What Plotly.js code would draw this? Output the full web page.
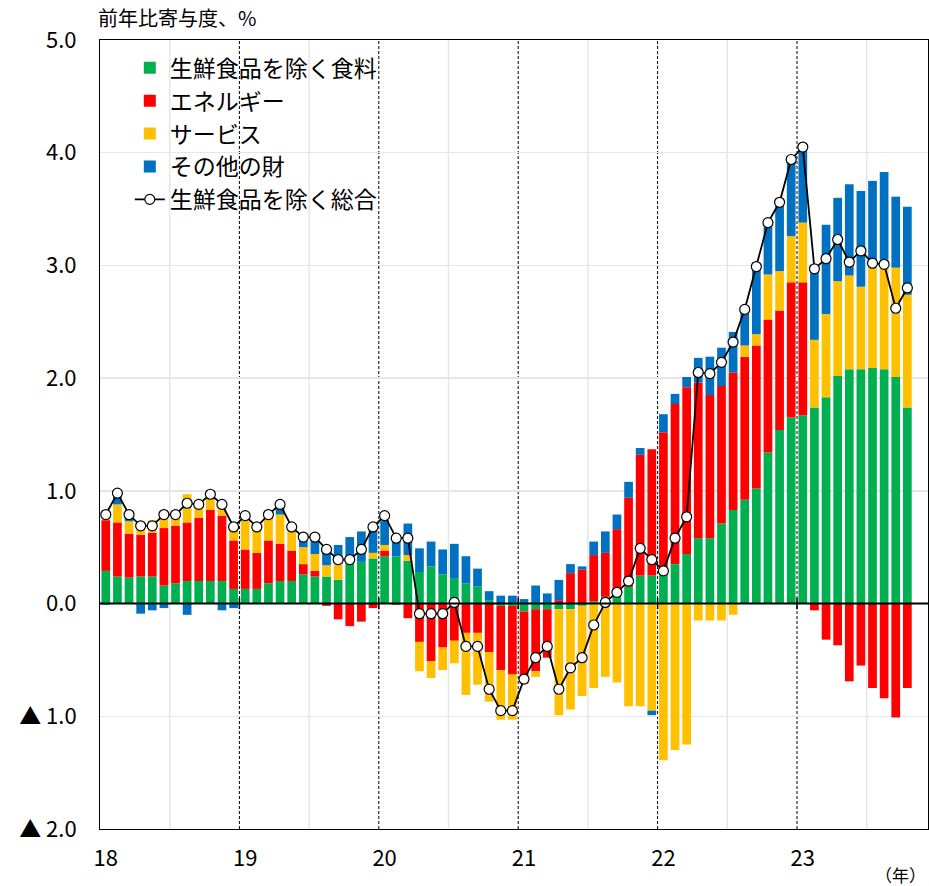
<!DOCTYPE html>
<html>
<head>
<meta charset="utf-8">
<script src="https://cdn.plot.ly/plotly-3.0.1.min.js"></script>
<style>html,body{margin:0;padding:0;background:#fff;}#chart{width:929px;height:886px;}</style>
</head>
<body>
<div id="chart"></div>
<script>
// Year labels (one per January, starting 2018)
const yearLabels = ['18', '19', '20', '21', '22', '23'];

// Monthly contributions (percentage points), Jan 2018 – Oct 2023
const food = [
  0.29, 0.24, 0.23, 0.24, 0.24, 0.16, 0.18, 0.20, 0.20, 0.20, 0.20, 0.13,
  0.13, 0.13, 0.18, 0.20, 0.20, 0.26, 0.24, 0.24, 0.21, 0.37, 0.37, 0.40,
  0.42, 0.42, 0.38, 0.28, 0.33, 0.26, 0.22, 0.18, 0.15, 0.03, -0.02, -0.02,
  -0.07, -0.05, -0.05, -0.05, -0.05, -0.02, 0.02, 0.06, 0.09, 0.15, 0.25, 0.25,
  0.27, 0.35, 0.44, 0.58, 0.58, 0.71, 0.83, 0.92, 1.02, 1.34, 1.54, 1.65,
  1.67, 1.74, 1.83, 2.02, 2.08, 2.08, 2.09, 2.08, 2.01, 1.74
];
const energy = [
  0.45, 0.48, 0.39, 0.37, 0.39, 0.51, 0.51, 0.52, 0.56, 0.63, 0.58, 0.43,
  0.35, 0.32, 0.38, 0.33, 0.27, 0.09, 0.05, -0.02, -0.14, -0.20, -0.16, -0.04,
  0.05, -0.01, -0.13, -0.34, -0.51, -0.39, -0.33, -0.26, -0.26, -0.43, -0.57, -0.61,
  -0.64, -0.55, -0.43, 0.03, 0.27, 0.30, 0.41, 0.39, 0.57, 0.79, 1.07, 1.12,
  1.25, 1.42, 1.48, 1.38, 1.27, 1.22, 1.22, 1.27, 1.27, 1.18, 1.06, 1.20,
  1.18, -0.06, -0.32, -0.37, -0.69, -0.55, -0.75, -0.84, -1.01, -0.75
];
const services = [
  0.02, 0.16, 0.11, 0.10, 0.11, 0.10, 0.08, 0.25, 0.10, 0.13, 0.10, 0.14,
  0.26, 0.20, 0.19, 0.26, 0.18, 0.15, 0.15, 0.10, 0.15, 0.00, 0.00, 0.05,
  0.05, 0.00, 0.05, -0.26, -0.15, -0.20, -0.20, -0.55, -0.46, -0.44, -0.44, -0.40,
  0.00, -0.05, 0.00, -0.94, -0.89, -0.80, -0.75, -0.65, -0.70, -0.91, -0.91, -0.95,
  -1.39, -1.30, -1.25, -0.15, -0.15, -0.15, -0.10, 0.10, 0.10, 0.40, 0.35, 0.41,
  0.53, 0.60, 0.74, 0.84, 0.83, 0.73, 0.94, 0.97, 0.97, 1.00
];
const otherGoods = [
  -0.01, 0.09, 0.04, -0.09, -0.06, -0.04, 0.00, -0.10, 0.00, 0.01, -0.06, -0.04,
  0.03, 0.02, 0.03, 0.06, 0.02, 0.09, 0.14, 0.13, 0.16, 0.22, 0.27, 0.20,
  0.22, 0.16, 0.28, 0.21, 0.22, 0.22, 0.31, 0.24, 0.16, 0.08, 0.07, 0.07,
  0.04, 0.16, 0.09, 0.18, 0.08, 0.03, 0.12, 0.19, 0.13, 0.14, 0.06, -0.04,
  0.16, 0.09, 0.09, 0.22, 0.34, 0.34, 0.36, 0.35, 0.57, 0.46, 0.62, 0.71,
  0.66, 0.63, 0.79, 0.74, 0.81, 0.85, 0.72, 0.78, 0.63, 0.78
];
const coreCPI = [
  0.79, 0.98, 0.79, 0.69, 0.69, 0.79, 0.79, 0.89, 0.88, 0.97, 0.88, 0.68,
  0.78, 0.68, 0.79, 0.88, 0.68, 0.59, 0.59, 0.48, 0.39, 0.39, 0.48, 0.68,
  0.78, 0.58, 0.58, -0.09, -0.09, -0.09, 0.01, -0.38, -0.38, -0.76, -0.95, -0.95,
  -0.67, -0.48, -0.38, -0.76, -0.57, -0.48, -0.19, 0.01, 0.10, 0.20, 0.49, 0.39,
  0.29, 0.58, 0.77, 2.05, 2.04, 2.14, 2.32, 2.61, 2.99, 3.38, 3.56, 3.94,
  4.05, 2.97, 3.06, 3.23, 3.03, 3.13, 3.02, 3.01, 2.62, 2.80
];

const names = ['生鮮食品を除く食料', 'エネルギー', 'サービス', 'その他の財', '生鮮食品を除く総合'];
const colors = ['#00B050', '#FF0000', '#FFC000', '#0070C0'];

const xs = food.map((_, i) => i + 0.5);
const series = [food, energy, services, otherGoods];

const traces = series.map((vals, k) => ({
  type: 'bar', x: xs, y: vals, name: names[k],
  marker: {color: colors[k], line: {width: 0}},
  hoverinfo: 'skip'
}));
traces.push({
  type: 'scatter', mode: 'lines+markers', x: xs, y: coreCPI, name: names[4],
  line: {color: '#000', width: 1.8},
  marker: {symbol: 'circle', size: 10, color: '#fff', line: {color: '#000', width: 1.2}},
  hoverinfo: 'skip'
});

const nYears = yearLabels.length;
const shapes = [];
for (let k = 0; k < nYears; k++) {
  // mid-year light grid
  shapes.push({type: 'line', xref: 'x', yref: 'paper', x0: 12*k + 6, x1: 12*k + 6, y0: 0, y1: 1,
    line: {color: '#e6e6e6', width: 1.5}, layer: 'below'});
  if (k > 0) {
    shapes.push({type: 'line', xref: 'x', yref: 'paper', x0: 12*k, x1: 12*k, y0: 0, y1: 1,
      line: {color: '#000', width: 1, dash: '3px,2px'}, layer: 'below'});
    shapes.push({type: 'line', xref: 'x', yref: 'y', x0: 12*k, x1: 12*k, y0: -0.05, y1: 0.05,
      line: {color: '#000', width: 1.5}, layer: 'above'});
  }
}
shapes.push({type: 'line', xref: 'paper', yref: 'y', x0: 0, x1: 1, y0: 0, y1: 0,
  line: {color: '#000', width: 2}, layer: 'above'});

const yvals = [-2, -1, 0, 1, 2, 3, 4, 5];
const ytext = yvals.map(v => (v < 0 ? '▲ ' + Math.abs(v).toFixed(1) : v.toFixed(1)));

const font = '"Noto Sans CJK JP", "Noto Sans", sans-serif';

const layout = {
  width: 929, height: 886,
  margin: {l: 100, r: 1, t: 40, b: 57},
  paper_bgcolor: '#fff', plot_bgcolor: '#fff',
  font: {family: font, color: '#000'},
  barmode: 'relative', bargap: 0.25,
  showlegend: true,
  legend: {
    x: 0.036, xanchor: 'left', y: 0.992, yanchor: 'top',
    bgcolor: 'rgba(0,0,0,0)', borderwidth: 0,
    traceorder: 'normal', tracegroupgap: 0,
    font: {family: font, size: 23, color: '#000'}
  },
  title: {text: '前年比寄与度、%', x: 98/929, xanchor: 'left', y: 1 - 19/886, yanchor: 'middle',
    font: {family: font, size: 20, color: '#000'}},
  xaxis: {
    range: [0, 828 / (139.4 / 12)],
    tickvals: yearLabels.map((_, k) => 12*k + 0.5),
    ticktext: yearLabels,
    ticks: '', showgrid: false, zeroline: false,
    showline: true, linecolor: '#000', linewidth: 1, mirror: true,
    tickfont: {family: font, size: 22, color: '#000'},
    ticklabelstandoff: 10
  },
  yaxis: {
    range: [-2, 5],
    tickvals: yvals, ticktext: ytext,
    ticks: '', showgrid: true, gridcolor: '#e6e6e6', gridwidth: 1.5,
    zeroline: false,
    showline: true, linecolor: '#000', linewidth: 1, mirror: true,
    tickfont: {family: font, size: 22, color: '#000'},
    ticklabelstandoff: 18
  },
  shapes: shapes,
  annotations: [{
    text: '（年）', xref: 'paper', yref: 'paper', x: 1, y: -(874 - 829) / 789,
    xanchor: 'right', yanchor: 'middle', xshift: -1, borderpad: 0,
    showarrow: false, font: {family: font, size: 17, color: '#000'}
  }]
};

Plotly.newPlot('chart', traces, layout, {staticPlot: true, displayModeBar: false});
</script>
</body>
</html>
